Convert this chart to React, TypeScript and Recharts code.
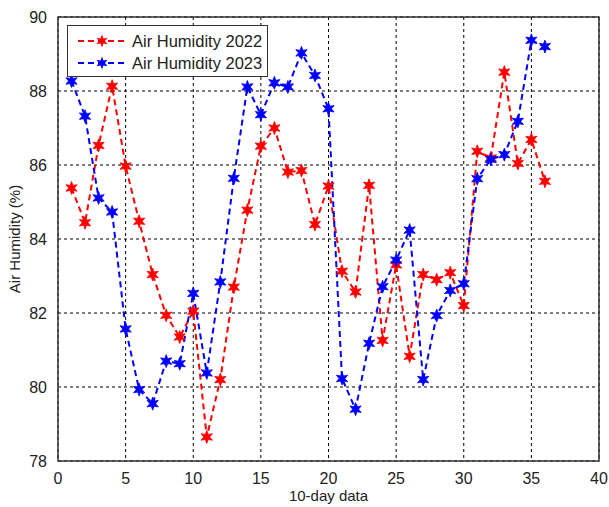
// App.tsx

import React from 'react';
import { LineChart, Line, XAxis, YAxis, CartesianGrid, ReferenceArea, Label } from 'recharts';

const periods = Array.from({ length: 36 }, (_, i) => i + 1);

const humidity2022 = [
  85.38, 84.44, 86.53, 88.13, 85.97, 84.48, 83.04, 81.94, 81.35, 82.05,
  78.65, 80.2, 82.7, 84.78, 86.51, 87.0, 85.81, 85.85, 84.39, 85.43,
  83.13, 82.57, 85.45, 81.26, 83.3, 80.83, 83.04, 82.9, 83.09, 82.2,
  86.37, 86.19, 88.51, 86.04, 86.69, 85.56,
];

const humidity2023 = [
  88.27, 87.32, 85.11, 84.73, 81.57, 79.93, 79.55, 80.7, 80.63, 82.53,
  80.38, 82.84, 85.64, 88.11, 87.36, 88.22, 88.11, 89.03, 88.42, 87.52,
  80.23, 79.4, 81.18, 82.71, 83.43, 84.24, 80.2, 81.93, 82.61, 82.79,
  85.63, 86.15, 86.28, 87.18, 89.37, 89.2,
];

const xTicks = [0, 5, 10, 15, 20, 25, 30, 35, 40];
const yTicks = [78, 80, 82, 84, 86, 88, 90];

const seriesInfo = [
  { key: 'y2022', label: 'Air Humidity 2022', color: '#ff0000' },
  { key: 'y2023', label: 'Air Humidity 2023', color: '#0000ff' },
];

const chartData = periods.map((p, i) => ({
  period: p,
  y2022: humidity2022[i],
  y2023: humidity2023[i],
}));

const FONT = 'Arial, "Liberation Sans", sans-serif';

// star marker like the matlab plot
const starPath = (cx: number, cy: number, r: number) => {
  const pts: string[] = [];
  for (let k = 0; k < 12; k++) {
    const rad = k % 2 === 0 ? r : r * 0.45;
    const a = (Math.PI / 6) * k - Math.PI / 2;
    pts.push(`${(cx + rad * Math.cos(a)).toFixed(2)},${(cy + rad * Math.sin(a)).toFixed(2)}`);
  }
  return `M${pts.join('L')}Z`;
};

const StarDot = (props: any) => {
  const { cx, cy, stroke } = props;
  if (cx == null || cy == null) return null;
  return <path d={starPath(cx, cy, 6.5)} fill={stroke} stroke={stroke} strokeWidth={0.8} />;
};

const LegendBox = () => (
  <div
    style={{
      position: 'absolute',
      left: 67,
      top: 25,
      width: 201,
      height: 52,
      border: '1px solid #333',
      background: '#fff',
      fontFamily: FONT,
      fontSize: 16.5,
      color: '#222',
      boxSizing: 'border-box',
    }}
  >
    {seriesInfo.map((s, i) => (
      <div key={s.key} style={{ display: 'flex', alignItems: 'center', height: 22, marginTop: i === 0 ? 4 : 0 }}>
        <svg width={56} height={20} style={{ marginLeft: 6 }}>
          <line x1={4} y1={10} x2={52} y2={10} stroke={s.color} strokeWidth={2} strokeDasharray="6 4" />
          <path d={starPath(28, 10, 6.5)} fill={s.color} />
        </svg>
        <span style={{ marginLeft: 2 }}>{s.label}</span>
      </div>
    ))}
  </div>
);

export default function App() {
  return (
    <div style={{ position: 'absolute', left: 0, top: 0, width: 609, height: 507, background: '#fff' }}>
      <LineChart width={609} height={507} data={chartData} margin={{ top: 17, right: 10, bottom: 0, left: 0 }}>
        <CartesianGrid stroke="#000" strokeDasharray="3 3" strokeWidth={1} />
        <XAxis
          dataKey="period"
          type="number"
          domain={[0, 40]}
          ticks={xTicks}
          height={46}
          tickLine={false}
          tickMargin={6}
          axisLine={false}
          tick={{ fontSize: 16, fill: '#222', fontFamily: FONT }}
        >
          <Label value="10-day data" position="insideBottom" offset={6} style={{ fontSize: 15, fill: '#222', fontFamily: FONT }} />
        </XAxis>
        <YAxis
          type="number"
          domain={[78, 90]}
          ticks={yTicks}
          width={58}
          tickLine={false}
          tickMargin={5}
          axisLine={false}
          tick={{ fontSize: 16, fill: '#222', fontFamily: FONT }}
        >
          <Label
            value="Air Humidity (%)"
            angle={-90}
            position="insideLeft"
            offset={15}
            style={{ textAnchor: 'middle', fontSize: 15, fill: '#222', fontFamily: FONT }}
          />
        </YAxis>
        <ReferenceArea x1={0} x2={40} y1={78} y2={90} fill="none" stroke="#333" strokeWidth={1.5} ifOverflow="visible" />
        {seriesInfo.map(s => (
          <Line
            key={s.key}
            type="linear"
            dataKey={s.key}
            name={s.label}
            stroke={s.color}
            strokeWidth={2}
            strokeDasharray="6 4"
            dot={<StarDot />}
            activeDot={false}
            isAnimationActive={false}
          />
        ))}
      </LineChart>
      <LegendBox />
    </div>
  );
}
